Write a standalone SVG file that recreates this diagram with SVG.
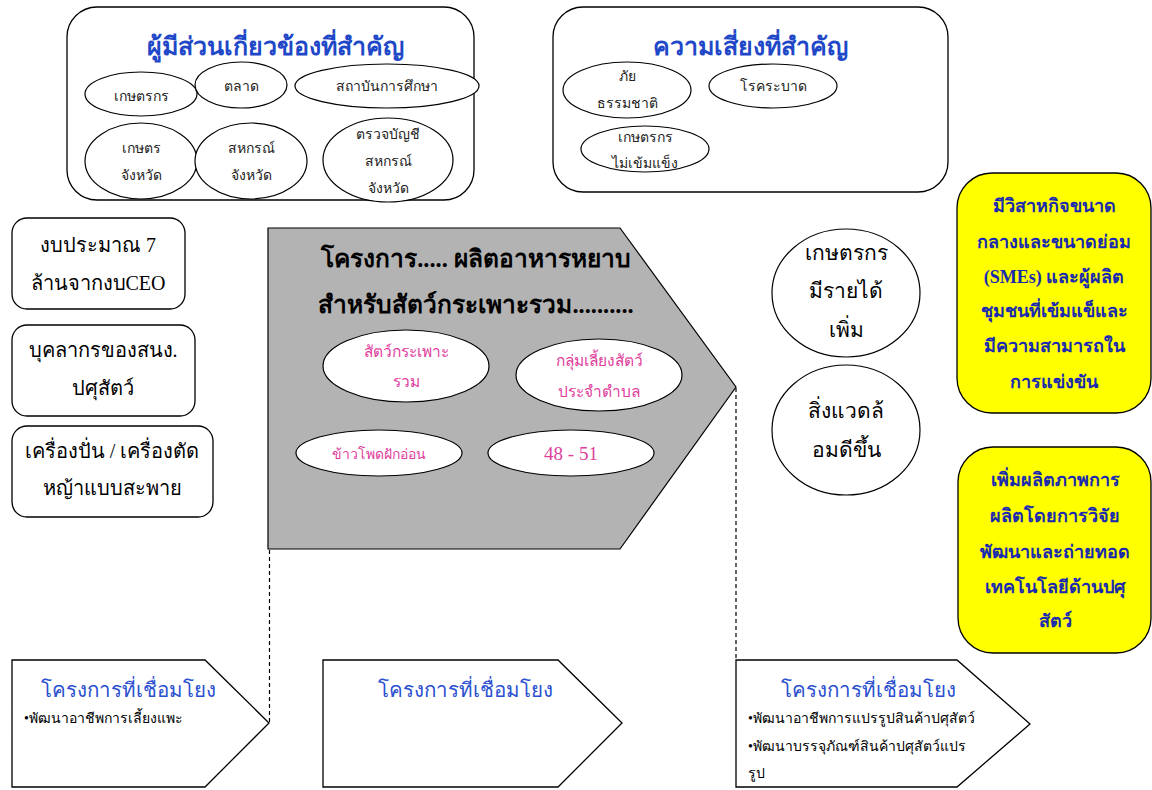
<svg xmlns="http://www.w3.org/2000/svg" width="1152" height="790" viewBox="0 0 1152 790">
<defs>
<style>
text{font-family:"Liberation Serif","Noto Sans","DejaVu Sans",serif;text-anchor:middle;}
.box{fill:#fff;stroke:#000;stroke-width:1.3;}
.ell{fill:#fff;stroke:#000;stroke-width:1.2;}
.t{font-size:14px;fill:#222;}
.title{font-size:25px;font-weight:bold;fill:#1f48c8;}
.lt{font-size:20px;fill:#000;}
.pk{font-size:15.5px;fill:#e0409c;}
.big{font-size:24.5px;font-weight:bold;fill:#000;}
.rc{font-size:21px;fill:#000;}
.yb{fill:#ffff00;stroke:#000;stroke-width:1.3;}
.yt{font-size:18px;font-weight:bold;fill:#1a2ab0;}
.link{font-size:20.5px;fill:#2a50d0;}
.bul{font-size:14px;fill:#000;text-anchor:start;}
.dash{fill:none;stroke:#000;stroke-width:1.2;stroke-dasharray:4,3;}
</style>
</defs>
<rect width="1152" height="790" fill="#fff"/>

<g id="stakeholders">
<rect class="box" x="67" y="7" width="407" height="193" rx="30"/>
<text class="title" x="275" y="55">ผู้มีส่วนเกี่ยวข้องที่สำคัญ</text>
<ellipse class="ell" cx="141" cy="94" rx="56" ry="22"/>
<text class="t" x="141" y="101">เกษตรกร</text>
<ellipse class="ell" cx="241" cy="85" rx="46" ry="23"/>
<text class="t" x="241" y="91">ตลาด</text>
<ellipse class="ell" cx="387" cy="86" rx="92" ry="22"/>
<text class="t" x="387" y="91">สถาบันการศึกษา</text>
<ellipse class="ell" cx="141" cy="161" rx="56" ry="38"/>
<text class="t" x="141" y="153">เกษตร</text>
<text class="t" x="141" y="180">จังหวัด</text>
<ellipse class="ell" cx="251" cy="161" rx="56" ry="38"/>
<text class="t" x="251" y="153">สหกรณ์</text>
<text class="t" x="251" y="180">จังหวัด</text>
<ellipse class="ell" cx="388" cy="160" rx="65" ry="42"/>
<text class="t" x="388" y="139">ตรวจบัญชี</text>
<text class="t" x="388" y="166">สหกรณ์</text>
<text class="t" x="388" y="193">จังหวัด</text>
</g>

<g id="risks">
<rect class="box" x="553" y="7" width="395" height="185" rx="30"/>
<text class="title" x="750" y="55">ความเสี่ยงที่สำคัญ</text>
<ellipse class="ell" cx="627" cy="90" rx="64" ry="28"/>
<text class="t" x="627" y="81">ภัย</text>
<text class="t" x="627" y="108">ธรรมชาติ</text>
<ellipse class="ell" cx="773" cy="86" rx="64" ry="22"/>
<text class="t" x="773" y="91">โรคระบาด</text>
<ellipse class="ell" cx="645" cy="149" rx="64" ry="23"/>
<text class="t" x="645" y="142">เกษตรกร</text>
<text class="t" x="645" y="168">ไม่เข้มแข็ง</text>
</g>

<g id="budget">
<rect class="box" x="12" y="218" width="173" height="91" rx="15"/>
<text class="lt" x="98" y="252">งบประมาณ 7</text>
<text class="lt" x="98" y="290">ล้านจากงบCEO</text>
</g>
<g id="staff">
<rect class="box" x="12" y="325" width="183" height="91" rx="15"/>
<text class="lt" x="103" y="357">บุคลากรของสนง.</text>
<text class="lt" x="103" y="395">ปศุสัตว์</text>
</g>
<g id="machines">
<rect class="box" x="12" y="426" width="201" height="91" rx="15"/>
<text class="lt" x="112" y="458">เครื่องปั่น / เครื่องตัด</text>
<text class="lt" x="112" y="495">หญ้าแบบสะพาย</text>
</g>

<g id="project">
<polygon points="268,228 620,228 736,387 620,549 268,549" fill="#b3b3b3" stroke="#000" stroke-width="1.2"/>
<text class="big" x="476" y="267">โครงการ..... ผลิตอาหารหยาบ</text>
<text class="big" x="476" y="313">สำหรับสัตว์กระเพาะรวม..........</text>
<ellipse class="ell" cx="406" cy="366" rx="83" ry="36"/>
<text class="pk" x="406" y="357">สัตว์กระเพาะ</text>
<text class="pk" x="406" y="387">รวม</text>
<ellipse class="ell" cx="599" cy="375" rx="83" ry="36"/>
<text class="pk" x="599" y="366">กลุ่มเลี้ยงสัตว์</text>
<text class="pk" x="599" y="397">ประจำตำบล</text>
<ellipse class="ell" cx="379" cy="453" rx="83" ry="23"/>
<text class="pk" x="379" y="459" style="font-size:14px">ข้าวโพดฝักอ่อน</text>
<ellipse class="ell" cx="571" cy="453" rx="83" ry="23"/>
<text class="pk" x="571" y="460" style="font-size:19px">48 - 51</text>
</g>

<g id="income">
<ellipse class="ell" cx="846" cy="293" rx="74" ry="64"/>
<text class="rc" x="846" y="260">เกษตรกร</text>
<text class="rc" x="846" y="298">มีรายได้</text>
<text class="rc" x="846" y="337">เพิ่ม</text>
</g>
<g id="environment">
<ellipse class="ell" cx="846" cy="430" rx="74" ry="65"/>
<text class="rc" x="846" y="418">สิ่งแวดล้</text>
<text class="rc" x="846" y="457">อมดีขึ้น</text>
</g>

<g id="goal1">
<rect class="yb" x="957" y="173" width="194" height="240" rx="35"/>
<text class="yt" x="1054" y="212">มีวิสาหกิจขนาด</text>
<text class="yt" x="1054" y="248">กลางและขนาดย่อม</text>
<text class="yt" x="1054" y="283">(SMEs) และผู้ผลิต</text>
<text class="yt" x="1054" y="317">ชุมชนที่เข้มแข็และ</text>
<text class="yt" x="1054" y="352">มีความสามารถใน</text>
<text class="yt" x="1054" y="388">การแข่งขัน</text>
</g>
<g id="goal2">
<rect class="yb" x="958" y="447" width="193" height="206" rx="35"/>
<text class="yt" x="1055" y="486">เพิ่มผลิตภาพการ</text>
<text class="yt" x="1055" y="522">ผลิตโดยการวิจัย</text>
<text class="yt" x="1055" y="558">พัฒนาและถ่ายทอด</text>
<text class="yt" x="1055" y="593">เทคโนโลยีด้านปศุ</text>
<text class="yt" x="1055" y="627">สัตว์</text>
</g>

<g id="link1">
<polygon class="box" points="12,660 205,660 269,723 205,787 12,787"/>
<text class="link" x="128" y="697">โครงการที่เชื่อมโยง</text>
<text class="bul" x="24" y="723">•พัฒนาอาชีพการเลี้ยงแพะ</text>
</g>
<g id="link2">
<polygon class="box" points="323,660 558,660 622,723 558,787 323,787"/>
<text class="link" x="465" y="697">โครงการที่เชื่อมโยง</text>
</g>
<g id="link3">
<polygon class="box" points="736,660 957,660 1030,724 957,787 736,787"/>
<text class="link" x="868" y="697">โครงการที่เชื่อมโยง</text>
<text class="bul" x="748" y="723">•พัฒนาอาชีพการแปรรูปสินค้าปศุสัตว์</text>
<text class="bul" x="748" y="751">•พัฒนาบรรจุภัณฑ์สินค้าปศุสัตว์แปร</text>
<text class="bul" x="748" y="778">รูป</text>
</g>

<g id="connectors">
<line class="dash" x1="269.5" y1="550" x2="269.5" y2="723"/>
<line class="dash" x1="736" y1="388" x2="736" y2="660"/>
</g>
</svg>
